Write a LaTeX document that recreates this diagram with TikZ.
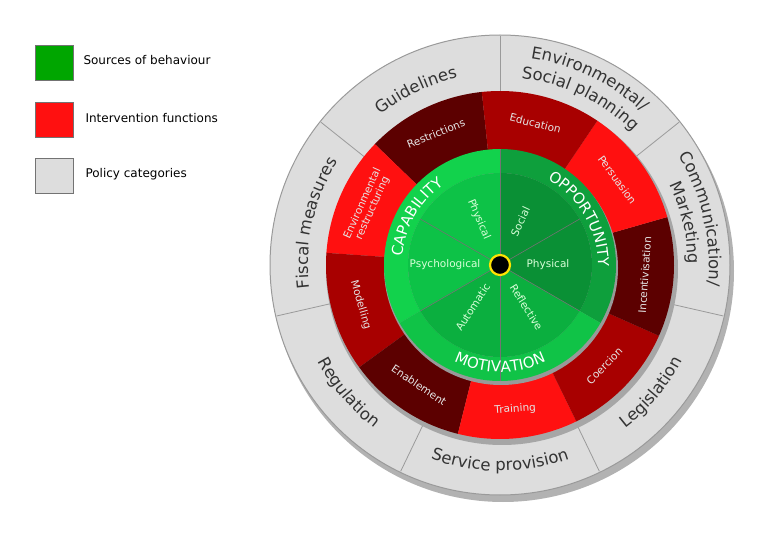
\documentclass[tikz,border=0pt]{standalone}
\usepackage{fontspec}
\setmainfont{DejaVu Sans}
\usetikzlibrary{decorations.text}

\definecolor{ringgray}{HTML}{DDDDDD}
\definecolor{linegray}{HTML}{9A9A9A}
\definecolor{reddark}{HTML}{5C0000}
\definecolor{redmid}{HTML}{A80000}
\definecolor{redlight}{HTML}{FF1010}
\definecolor{capout}{HTML}{12D24C}
\definecolor{capin}{HTML}{0DC247}
\definecolor{oppout}{HTML}{0E9F3C}
\definecolor{oppin}{HTML}{0A9035}
\definecolor{motout}{HTML}{10C347}
\definecolor{motin}{HTML}{0BAF3F}

% annular sector: start, end, outer r, inner r, style
\newcommand\ringpart[5]{\fill[#5] (#1:#3) arc[start angle=#1,end angle=#2,radius=#3]
  -- (#2:#4) arc[start angle=#2,end angle=#1,radius=#4] -- cycle;}
% text on an arc: start, end, radius, size, colour, text
\newcommand\arctext[6]{\path[decorate,decoration={text along path,text align=center,
  text={|\fontsize{#4}{#4}\selectfont\color{#5}|#6}}] (#1:#3) arc[start angle=#1,end angle=#2,radius=#3];}

\begin{document}
\begin{tikzpicture}[x=1pt,y=1pt]
	% Define styles
	\tikzset{
		key/.style = {draw=black!55, minimum width=38pt, minimum height=35pt, inner sep=0pt},
		keytext/.style = {right, font=\fontsize{12}{12}\selectfont},
		fnlabel/.style = {text=white!90!black, font=\fontsize{10.5}{11}\selectfont, align=center},
		srclabel/.style = {text=white!85!green, font=\fontsize{10.5}{11}\selectfont},
		spoke/.style = {black!55, line width=0.6pt}
	}
	\useasboundingbox (0,0) rectangle (764,539);

	% Legend
	\node [key, fill=green!65!black] (keysrc) at (54,476) {};
	\node [key, fill=redlight] (keyfn) at (54,419) {};
	\node [key, fill=ringgray] (keypol) at (54,363) {};
	\node [keytext] (txtsrc) at (80,479) {Sources of behaviour};
	\node [keytext] (txtfn) at (82,421) {Intervention functions};
	\node [keytext] (txtpol) at (82,365) {Policy categories};

	\begin{scope}[shift={(500,274)}]
		\coordinate (ctr) at (0,0);
		% shadow and policy ring
		\fill[black!30] (3,-6) circle (231);
		\fill[ringgray, draw=linegray, line width=1pt] (ctr) circle (230);
		\foreach \a in {90,141.43,192.86,244.29,295.71,347.14,38.57}
			\draw[linegray, line width=0.8pt] (\a:174) -- (\a:229);
		\fill[black!35] (2,-4) circle (176);

		% intervention functions
		\ringpart{96}{136}{174}{115}{reddark}
		\ringpart{136}{176}{174}{115}{redlight}
		\ringpart{176}{216}{174}{115}{redmid}
		\ringpart{216}{256}{174}{115}{reddark}
		\ringpart{256}{296}{174}{115}{redlight}
		\ringpart{296}{336}{174}{115}{redmid}
		\ringpart{336}{376}{174}{115}{reddark}
		\ringpart{16}{56}{174}{115}{redlight}
		\ringpart{56}{96}{174}{115}{redmid}
		\fill[black!40] (1,-3) circle (117);

		% sources of behaviour
		\ringpart{90}{210}{116}{92}{capout}
		\ringpart{-30}{90}{116}{92}{oppout}
		\ringpart{210}{330}{116}{92}{motout}
		\fill[capin] (ctr) -- (90:92) arc[start angle=90,end angle=210,radius=92] -- cycle;
		\fill[oppin] (ctr) -- (-30:92) arc[start angle=-30,end angle=90,radius=92] -- cycle;
		\fill[motin] (ctr) -- (210:92) arc[start angle=210,end angle=330,radius=92] -- cycle;
		\foreach \a in {30,150,210,330}
			\draw[spoke] (ctr) -- (\a:92);
		\draw[spoke] (ctr) -- (90:116);
		\draw[spoke] (ctr) -- (270:116);
		\fill[black, draw=yellow!85!orange, line width=2.2pt] (ctr) circle (10);

		% policy labels
		\arctext{141.4}{90}{192}{16.5}{black!80}{Guidelines}
		\arctext{192.9}{141.4}{192}{16.5}{black!80}{Fiscal measures}
		\arctext{196}{244.3}{206}{16.5}{black!80}{Regulation}
		\arctext{244.3}{295.7}{206}{16.5}{black!80}{Service provision}
		\arctext{295.7}{344}{206}{16.5}{black!80}{Legislation}
		\arctext{38.6}{-12.9}{209}{16.5}{black!80}{Communication/}
		\arctext{38.6}{-12.9}{188}{16.5}{black!80}{Marketing}
		\arctext{90}{38.6}{209}{16.5}{black!80}{Environmental/}
		\arctext{90}{38.6}{188}{16.5}{black!80}{Social planning}

		% intervention labels
		\node [fnlabel, rotate=22] (restr) at (116:146) {Restrictions};
		\node [fnlabel, rotate=66] (envr) at (156:145) {Environmental\\restructuring};
		\node [fnlabel, rotate=-74] (model) at (196:145) {Modelling};
		\node [fnlabel, rotate=-34] (enab) at (236:145) {Enablement};
		\node [fnlabel, rotate=4] (train) at (276:145) {Training};
		\node [fnlabel, rotate=46] (coerc) at (316:145) {Coercion};
		\node [fnlabel, rotate=86] (incen) at (356:145) {Incentivisation};
		\node [fnlabel, rotate=-54] (pers) at (36:145) {Persuasion};
		\node [fnlabel, rotate=-14] (educ) at (76:146) {Education};

		% source labels
		\arctext{205}{95}{98}{15}{white}{CAPABILITY}
		\arctext{85}{-25}{98}{15}{white}{OPPORTUNITY}
		\arctext{215}{325}{107}{15}{white}{MOTIVATION}
		\node [srclabel, rotate=-67] (physc) at (115:50) {Physical};
		\node [srclabel] (psych) at (180:55) {Psychological};
		\node [srclabel, rotate=57] (autom) at (237:50) {Automatic};
		\node [srclabel, rotate=-58] (refl) at (302:50) {Reflective};
		\node [srclabel] (physo) at (0:48) {Physical};
		\node [srclabel, rotate=65] (social) at (65:48) {Social};
	\end{scope}
\end{tikzpicture}
\end{document}
